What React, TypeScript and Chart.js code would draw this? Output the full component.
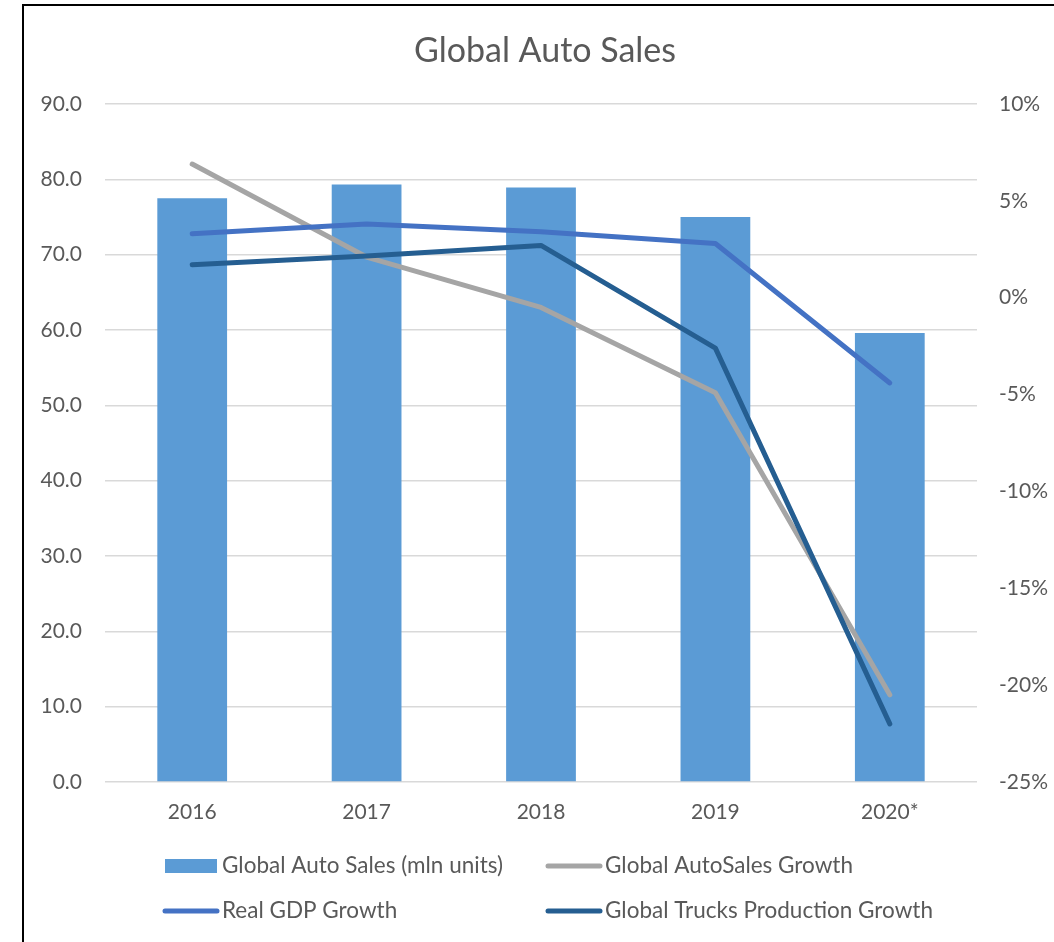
import React, { useEffect, useRef } from "react";
import { Chart, registerables } from "chart.js";

Chart.register(...registerables);

const categories = ["2016", "2017", "2018", "2019", "2020*"];
const autoSales = [77.5, 79.3, 78.9, 75.0, 59.6];
const autoSalesGrowth = [6.9, 2.1, -0.5, -4.9, -20.5];
const gdpGrowth = [3.3, 3.8, 3.4, 2.8, -4.4];
const trucksGrowth = [1.7, 2.15, 2.7, -2.6, -22.0];

const FONT = "Lato, 'Open Sans', sans-serif";
const TEXT = "#595959";

const legendPlugin = {
  id: "gridLegend",
  afterDraw(chart: any) {
    const ctx = chart.ctx;
    const ds = chart.data.datasets;
    // order in legend: bar, gray, gdp, trucks
    const slots = [
      { x: 165, y: 866 },
      { x: 548, y: 866 },
      { x: 165, y: 911 },
      { x: 548, y: 911 },
    ];
    ctx.save();
    ctx.font = `22.5px ${FONT}`;
    ctx.textBaseline = "middle";
    ctx.textAlign = "left";
    ds.forEach((d: any, i: number) => {
      const s = slots[i];
      if (d.type === "bar") {
        ctx.fillStyle = d.backgroundColor;
        ctx.fillRect(s.x, s.y - 7, 52, 14);
      } else {
        ctx.strokeStyle = d.borderColor;
        ctx.lineWidth = 5;
        ctx.lineCap = "round";
        ctx.beginPath();
        ctx.moveTo(s.x, s.y);
        ctx.lineTo(s.x + 52, s.y);
        ctx.stroke();
      }
      ctx.fillStyle = TEXT;
      ctx.fillText(d.label, s.x + 57, s.y);
    });
    ctx.restore();
  },
};

export default function App() {
  const ref = useRef<HTMLCanvasElement>(null);
  useEffect(() => {
    if (!ref.current) return;
    const chart = new Chart(ref.current, {
      type: "bar",
      data: {
        labels: categories,
        datasets: [
          {
            type: "bar",
            label: "Global Auto Sales (mln units)",
            data: autoSales,
            backgroundColor: "#5B9BD5",
            yAxisID: "y",
            order: 3,
            barPercentage: 0.8,
            categoryPercentage: 0.5,
          },
          {
            type: "line",
            label: "Global AutoSales Growth",
            data: autoSalesGrowth,
            borderColor: "#A5A5A5",
            backgroundColor: "#A5A5A5",
            borderWidth: 5,
            pointRadius: 0,
            borderCapStyle: "round",
            borderJoinStyle: "round",
            yAxisID: "y1",
            order: 2,
          },
          {
            type: "line",
            label: "Real GDP Growth",
            data: gdpGrowth,
            borderColor: "#4472C4",
            backgroundColor: "#4472C4",
            borderWidth: 5,
            pointRadius: 0,
            borderCapStyle: "round",
            borderJoinStyle: "round",
            yAxisID: "y1",
            order: 1,
          },
          {
            type: "line",
            label: "Global Trucks Production Growth",
            data: trucksGrowth,
            borderColor: "#255E91",
            backgroundColor: "#255E91",
            borderWidth: 5,
            pointRadius: 0,
            borderCapStyle: "round",
            borderJoinStyle: "round",
            yAxisID: "y1",
            order: 0,
          },
        ] as any,
      },
      options: {
        animation: false,
        responsive: false,
        layout: { padding: { left: 36, right: 0, top: 0, bottom: 110 } },
        plugins: {
          legend: { display: false },
          tooltip: { enabled: false },
          title: {
            display: true,
            text: "Global Auto Sales",
            color: TEXT,
            font: { family: FONT, size: 34, weight: "normal" as any },
            padding: { top: 31, bottom: 32.2 },
          },
        },
        scales: {
          x: {
            grid: { display: false, drawTicks: false },
            border: { display: false },
            ticks: { color: TEXT, font: { family: FONT, size: 21 }, padding: 18 },
            afterFit: (s: any) => {
              s.height = 50;
            },
          },
          y: {
            position: "left",
            min: 0,
            max: 90,
            grid: { color: "#D9D9D9", lineWidth: 1.5, drawTicks: false },
            border: { display: false },
            ticks: {
              stepSize: 10,
              color: TEXT,
              font: { family: FONT, size: 21 },
              padding: 23,
              callback: (v: any) => Number(v).toFixed(1),
            },
            afterFit: (s: any) => {
              s.width = 69;
            },
          },
          y1: {
            position: "right",
            min: -25,
            max: 10,
            grid: { drawOnChartArea: false, drawTicks: false },
            border: { display: false },
            ticks: {
              stepSize: 5,
              color: TEXT,
              font: { family: FONT, size: 21 },
              padding: 22,
              callback: (v: any) => `${v}%`,
            },
            afterFit: (s: any) => {
              s.width = 77;
            },
          },
        },
      },
      plugins: [legendPlugin],
    });
    return () => chart.destroy();
  }, []);

  return (
    <div style={{ position: "fixed", left: 0, top: 0, width: 1054, height: 942, overflow: "hidden", background: "#fff" }}>
      <div
        style={{
          position: "absolute",
          left: 22,
          top: 4,
          width: 1100,
          height: 1000,
          border: "2px solid #000",
        }}
      />
      <canvas
        ref={ref}
        width={1054}
        height={942}
        style={{ position: "absolute", left: 0, top: 0, width: 1054, height: 942 }}
      />
    </div>
  );
}
